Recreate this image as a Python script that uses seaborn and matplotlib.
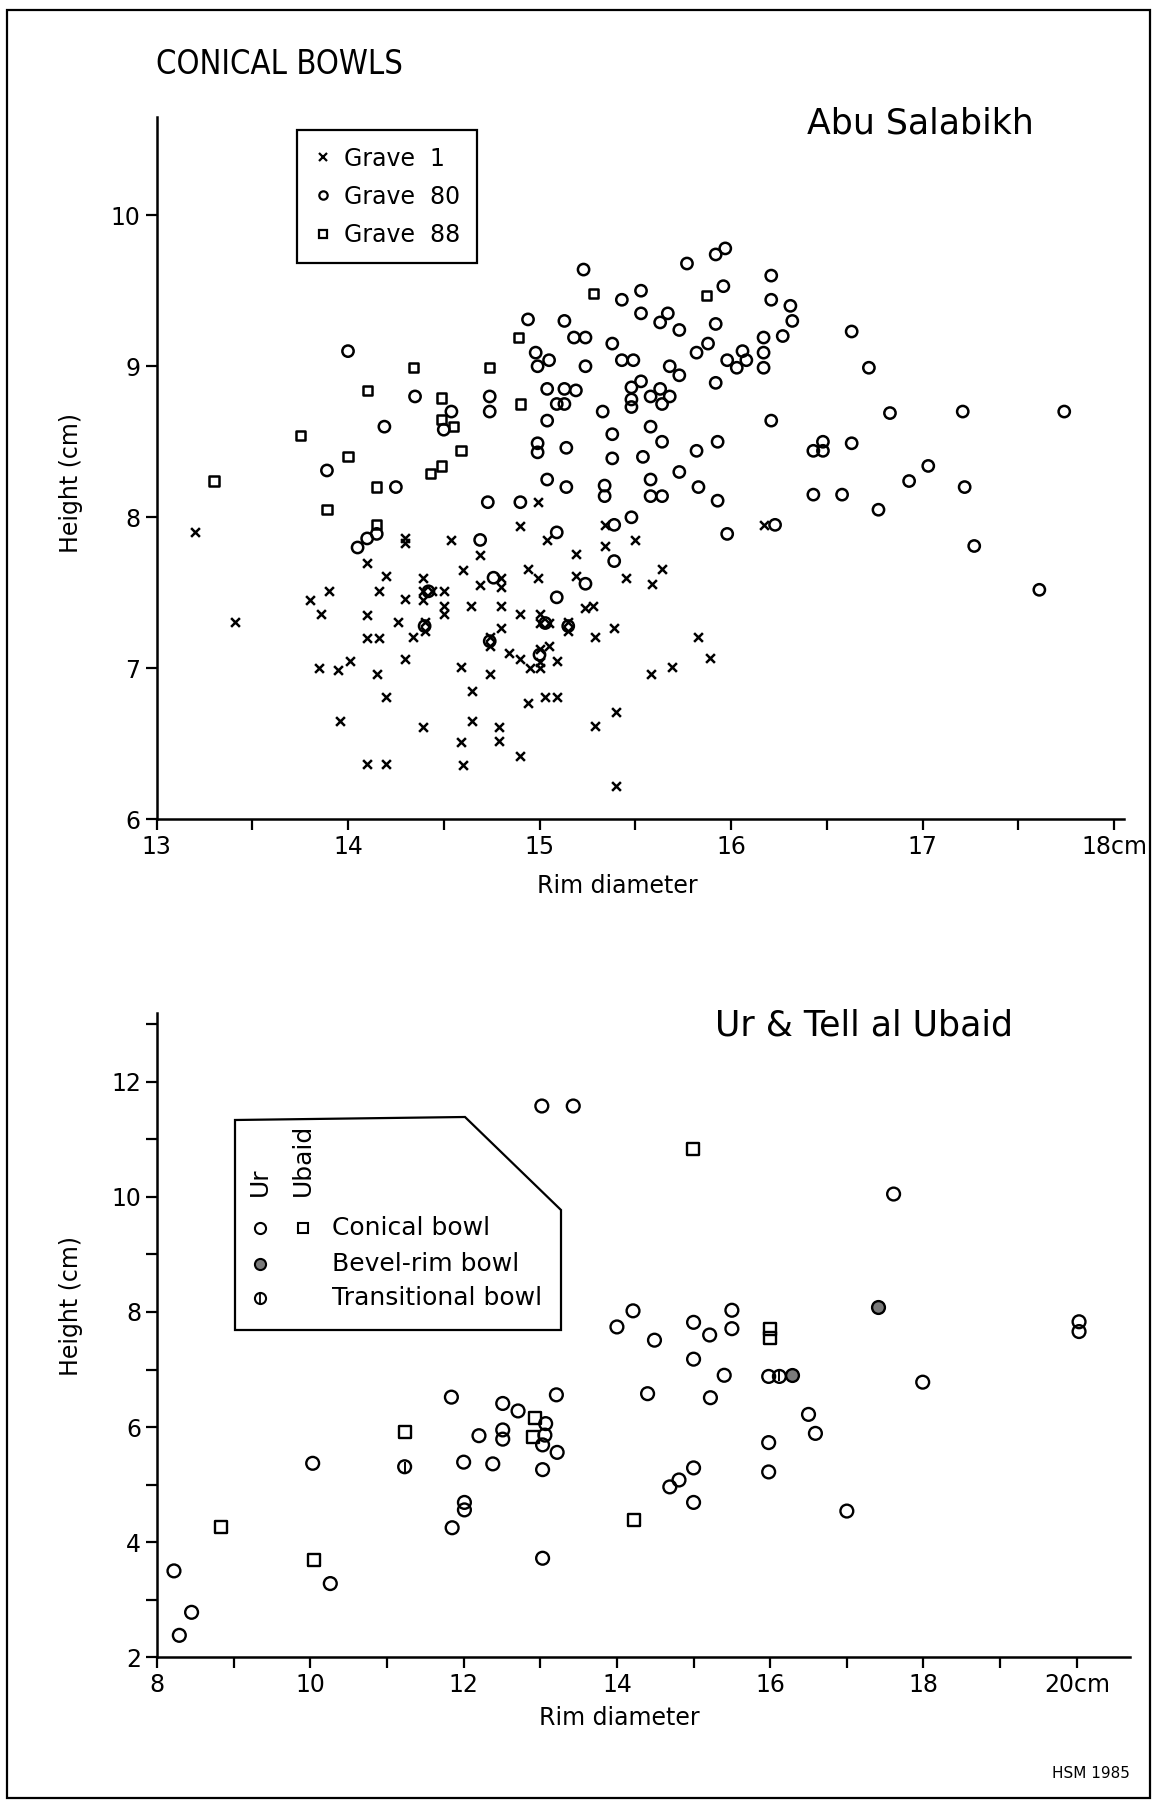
import matplotlib
matplotlib.use('Agg')
import matplotlib.pyplot as plt
import seaborn as sns
from matplotlib.lines import Line2D
from matplotlib.patches import Polygon, Rectangle
from matplotlib.ticker import FixedLocator, MultipleLocator
from matplotlib import font_manager

# ---- Abu Salabikh (rim diameter cm, height cm) ----
grave1_rim = [13.20, 13.41, 13.80, 13.90, 13.86, 13.85, 13.95, 14.01, 13.96, 14.10, 14.20, 14.16,
              14.10, 14.10, 14.16, 14.15, 14.20, 14.10, 14.20, 14.30, 14.30, 14.30, 14.26, 14.30,
              14.39, 14.39, 14.39, 14.44, 14.50, 14.50, 14.50, 14.40, 14.40, 14.34, 14.39, 14.54,
              14.60, 14.64, 14.59, 14.65, 14.65, 14.59, 14.60, 14.90, 14.69, 14.69, 14.80, 14.80,
              15.04, 14.94, 14.99, 14.80, 14.80, 14.90, 15.00, 15.00, 15.05, 15.15, 15.15, 14.74,
              14.74, 14.84, 14.90, 14.95, 15.00, 15.00, 15.00, 15.05, 15.09, 14.74, 14.94, 15.03,
              15.09, 14.79, 14.79, 14.90, 15.19, 15.19, 15.24, 15.28, 15.34, 15.34, 15.50, 15.45,
              15.29, 15.39, 15.29, 15.40, 15.40, 15.64, 15.59, 15.58, 15.69, 15.83, 15.89, 16.17,
              14.99]
grave1_height = [7.90, 7.31, 7.45, 7.51, 7.36, 7.00, 6.99, 7.05, 6.65, 7.70, 7.61, 7.51,
                 7.35, 7.20, 7.20, 6.96, 6.81, 6.37, 6.37, 7.86, 7.83, 7.46, 7.31, 7.06,
                 7.60, 7.51, 7.45, 7.51, 7.51, 7.41, 7.36, 7.31, 7.25, 7.21, 6.61, 7.85,
                 7.65, 7.41, 7.01, 6.85, 6.65, 6.51, 6.36, 7.94, 7.75, 7.55, 7.60, 7.54,
                 7.85, 7.66, 7.60, 7.41, 7.27, 7.36, 7.36, 7.30, 7.30, 7.31, 7.25, 7.21,
                 7.15, 7.10, 7.06, 7.00, 7.00, 7.13, 7.04, 7.15, 7.05, 6.96, 6.77, 6.81,
                 6.81, 6.61, 6.52, 6.42, 7.76, 7.61, 7.40, 7.41, 7.95, 7.81, 7.85, 7.60,
                 7.21, 7.27, 6.62, 6.71, 6.22, 7.66, 7.56, 6.96, 7.01, 7.21, 7.07, 7.95,
                 8.10]

grave80_rim = [14.05, 14.10, 14.15, 14.42, 14.40, 14.69, 14.76, 15.03, 15.15, 14.74, 15.00, 15.09,
               15.24, 15.09, 15.39, 15.48, 15.39, 15.98, 16.23, 14.00, 14.35, 14.54, 14.50, 14.19,
               13.89, 14.25, 15.23, 15.77, 15.92, 15.97, 15.96, 16.21, 16.21, 16.31, 16.32, 16.27,
               16.17, 16.17, 16.17, 16.21, 15.43, 15.53, 15.53, 15.63, 15.67, 15.73, 15.92, 15.88,
               15.82, 16.06, 15.98, 16.03, 16.08, 15.92, 15.68, 15.73, 14.94, 15.13, 15.18, 15.24,
               15.38, 14.98, 15.05, 14.99, 15.24, 15.43, 15.49, 15.04, 15.13, 15.19, 15.53, 15.48,
               15.48, 15.48, 15.58, 15.63, 15.68, 15.64, 14.74, 14.74, 15.09, 15.13, 15.04, 15.33,
               15.38, 15.58, 15.64, 15.82, 15.93, 14.99, 14.99, 15.14, 15.38, 15.54, 15.73, 15.04,
               15.14, 15.34, 15.34, 15.58, 15.58, 15.64, 15.83, 15.93, 14.73, 14.90, 16.63, 16.72,
               16.83, 17.21, 17.74, 16.48, 16.43, 16.48, 16.63, 17.03, 16.93, 17.22, 16.43, 16.58,
               16.77, 17.27, 17.61]
grave80_height = [7.80, 7.86, 7.89, 7.51, 7.28, 7.85, 7.60, 7.30, 7.28, 7.18, 7.09, 7.90,
                  7.56, 7.47, 7.95, 8.00, 7.71, 7.89, 7.95, 9.10, 8.80, 8.70, 8.58, 8.60,
                  8.31, 8.20, 9.64, 9.68, 9.74, 9.78, 9.53, 9.60, 9.44, 9.40, 9.30, 9.20,
                  9.19, 9.09, 8.99, 8.64, 9.44, 9.50, 9.35, 9.29, 9.35, 9.24, 9.28, 9.15,
                  9.09, 9.10, 9.04, 8.99, 9.04, 8.89, 9.00, 8.94, 9.31, 9.30, 9.19, 9.19,
                  9.15, 9.09, 9.04, 9.00, 9.00, 9.04, 9.04, 8.85, 8.85, 8.84, 8.90, 8.86,
                  8.78, 8.73, 8.80, 8.85, 8.80, 8.75, 8.80, 8.70, 8.75, 8.75, 8.64, 8.70,
                  8.55, 8.60, 8.50, 8.44, 8.50, 8.49, 8.43, 8.46, 8.39, 8.40, 8.30, 8.25,
                  8.20, 8.21, 8.14, 8.25, 8.14, 8.14, 8.20, 8.11, 8.10, 8.10, 9.23, 8.99,
                  8.69, 8.70, 8.70, 8.50, 8.44, 8.44, 8.49, 8.34, 8.24, 8.20, 8.15, 8.15,
                  8.05, 7.81, 7.52]

grave88_rim = [14.34, 14.10, 14.49, 14.49, 14.55, 13.75, 14.59, 14.00, 14.49, 14.43, 13.30, 14.15,
               13.89, 14.15, 15.28, 15.87, 14.89, 14.74, 14.90]
grave88_height = [8.99, 8.84, 8.79, 8.65, 8.60, 8.54, 8.44, 8.40, 8.34, 8.29, 8.24, 8.20,
                  8.05, 7.95, 9.48, 9.47, 9.19, 8.99, 8.75]

# ---- Ur & Tell al Ubaid ----
ur_conical_rim = [8.22, 8.29, 8.45, 10.03, 10.26, 11.84, 11.85, 12.00, 12.01, 12.01, 12.20, 12.38,
                  12.51, 12.51, 12.51, 12.71, 13.07, 13.06, 13.03, 13.03, 13.22, 13.21, 13.03, 13.02,
                  13.43, 14.00, 14.21, 17.61, 15.00, 15.50, 15.50, 15.21, 14.49, 20.03, 20.03, 15.00,
                  15.40, 14.40, 15.22, 15.98, 16.50, 16.59, 15.98, 15.98, 17.99, 15.00, 14.81, 14.69,
                  15.00, 17.00]
ur_conical_height = [3.50, 2.38, 2.78, 5.37, 3.28, 6.52, 4.25, 5.39, 4.69, 4.56, 5.85, 5.36,
                     6.41, 5.95, 5.79, 6.28, 6.06, 5.86, 5.69, 5.26, 5.56, 6.56, 3.72, 11.58,
                     11.58, 7.74, 8.02, 10.05, 7.82, 8.03, 7.71, 7.60, 7.51, 7.83, 7.66, 7.18,
                     6.90, 6.58, 6.51, 6.88, 6.22, 5.89, 5.73, 5.22, 6.78, 5.29, 5.08, 4.96,
                     4.69, 4.54]
ubaid_conical_rim = [12.93, 12.90, 11.23, 8.83, 10.05, 14.22, 14.99, 16.00, 16.00]
ubaid_conical_height = [6.16, 5.82, 5.91, 4.26, 3.69, 4.38, 10.83, 7.71, 7.54]
ur_bevel_rim = [17.41, 16.28]
ur_bevel_height = [8.09, 6.90]
ur_trans_rim = [11.23, 16.12]
ur_trans_height = [5.31, 6.88]

top_xticks = [13, 14, 15, 16, 17, 18]
top_xlabels = ['13', '14', '15', '16', '17', '18cm']
top_yticks = [6, 7, 8, 9, 10]
bot_xticks = [8, 10, 12, 14, 16, 18, 20]
bot_xlabels = ['8', '10', '12', '14', '16', '18', '20cm']
bot_yticks = [2, 4, 6, 8, 10, 12]

sns.set_style('ticks')
plt.rcParams['font.family'] = ['DejaVu Sans']
plt.rcParams['text.color'] = 'black'
plt.rcParams['axes.labelcolor'] = 'black'
plt.rcParams['xtick.color'] = 'black'
plt.rcParams['ytick.color'] = 'black'

# narrow face for the big heading
title_font = font_manager.FontProperties(family='DejaVu Sans', stretch='condensed', size=23.5)

W, H = 1160, 1805
fig = plt.figure(figsize=(W / 100, H / 100), dpi=100)


def fx(px):
    return px / W


def fy(py):
    return 1 - py / H


def style_axes(ax):
    sns.despine(ax=ax)
    for side in ['left', 'bottom']:
        ax.spines[side].set_linewidth(1.8)
        ax.spines[side].set_color('black')
    ax.tick_params(which='both', direction='out', length=8, width=1.6, colors='black',
                   labelcolor='black', labelsize=17)


# ---------------- top panel ----------------
ax1 = fig.add_axes([fx(156.5), fy(819.4), fx(1123.6) - fx(156.5), (819.4 - 117) / H])
sns.scatterplot(x=grave1_rim, y=grave1_height, marker='x', color='black', s=40,
                linewidth=1.8, ax=ax1)
sns.scatterplot(x=grave80_rim, y=grave80_height, marker='o', s=66, facecolors='none',
                edgecolor='black', linewidth=1.8, ax=ax1)
sns.scatterplot(x=grave88_rim, y=grave88_height, marker='s', s=44, facecolors='none',
                edgecolor='black', linewidth=1.8, ax=ax1)
ax1.set_xlim(13, 18.05)
ax1.set_ylim(6, 10.65)
ax1.xaxis.set_major_locator(FixedLocator(top_xticks))
ax1.set_xticklabels(top_xlabels)
ax1.xaxis.set_minor_locator(MultipleLocator(0.5))
ax1.set_yticks(top_yticks)
ax1.set_yticklabels([str(v) for v in top_yticks])
style_axes(ax1)

handles = [
    Line2D([], [], ls='none', marker='x', color='black', markersize=6, markeredgewidth=1.6),
    Line2D([], [], ls='none', marker='o', markerfacecolor='none', markeredgecolor='black',
           markersize=6, markeredgewidth=1.6),
    Line2D([], [], ls='none', marker='s', markerfacecolor='none', markeredgecolor='black',
           markersize=5.5, markeredgewidth=1.6),
]
leg = ax1.legend(handles, ['Grave  1', 'Grave  80', 'Grave  88'], loc='upper left',
                 bbox_to_anchor=(fx(297), fy(130)), bbox_transform=fig.transFigure,
                 borderaxespad=0, fontsize=17, frameon=True, fancybox=False, framealpha=1,
                 edgecolor='black', handlelength=0.8, handletextpad=0.5, labelspacing=0.6,
                 borderpad=0.7)
leg.get_frame().set_linewidth(1.6)
for t in leg.get_texts():
    t.set_color('black')

# ---------------- bottom panel ----------------
ax2 = fig.add_axes([fx(157.1), fy(1657.2), fx(1130.4) - fx(157.1), (1657.2 - 1012.8) / H])
sns.scatterplot(x=ur_conical_rim, y=ur_conical_height, marker='o', s=85, facecolors='none',
                edgecolor='black', linewidth=1.7, ax=ax2)
sns.scatterplot(x=ubaid_conical_rim, y=ubaid_conical_height, marker='s', s=75,
                facecolors='none', edgecolor='black', linewidth=1.7, ax=ax2)
sns.scatterplot(x=ur_bevel_rim, y=ur_bevel_height, marker='o', s=85, facecolors='#7a7a7a',
                edgecolor='black', linewidth=1.7, ax=ax2)
sns.scatterplot(x=ur_trans_rim, y=ur_trans_height, marker='o', s=85, facecolors='none',
                edgecolor='black', linewidth=1.7, ax=ax2)
sns.scatterplot(x=ur_trans_rim, y=ur_trans_height, marker='|', s=45, color='black',
                linewidth=1.4, ax=ax2)
ax2.set_xlim(8, 20.7)
ax2.set_ylim(2, 13.2)
ax2.xaxis.set_major_locator(FixedLocator(bot_xticks))
ax2.set_xticklabels(bot_xlabels)
ax2.xaxis.set_minor_locator(MultipleLocator(1))
ax2.set_yticks(bot_yticks)
ax2.set_yticklabels([str(v) for v in bot_yticks])
ax2.yaxis.set_minor_locator(MultipleLocator(1))
style_axes(ax2)

# bottom legend (cut-corner box)
box = [(235, 1120), (465, 1117), (561, 1210), (561, 1330), (235, 1330)]
fig.add_artist(Polygon([(fx(a), fy(b)) for a, b in box], closed=True, transform=fig.transFigure,
                       facecolor='white', edgecolor='black', linewidth=1.6, zorder=5))
fig.text(fx(260), fy(1196), 'Ur', rotation=90, ha='center', va='bottom', fontsize=18, zorder=6)
fig.text(fx(303), fy(1196), 'Ubaid', rotation=90, ha='center', va='bottom', fontsize=18, zorder=6)
rows = [(1228, 'Conical bowl'), (1264, 'Bevel-rim bowl'), (1298, 'Transitional bowl')]
for yy, lab in rows:
    fig.text(fx(332), fy(yy), lab, ha='left', va='center', fontsize=18, zorder=6)
fig.add_artist(Line2D([fx(260)], [fy(1228)], ls='none', marker='o', markersize=8,
                      markerfacecolor='none', markeredgecolor='black', markeredgewidth=1.5,
                      transform=fig.transFigure, zorder=6))
fig.add_artist(Line2D([fx(303)], [fy(1228)], ls='none', marker='s', markersize=7,
                      markerfacecolor='none', markeredgecolor='black', markeredgewidth=1.5,
                      transform=fig.transFigure, zorder=6))
fig.add_artist(Line2D([fx(260)], [fy(1264)], ls='none', marker='o', markersize=8,
                      markerfacecolor='#7a7a7a', markeredgecolor='black', markeredgewidth=1.5,
                      transform=fig.transFigure, zorder=6))
fig.add_artist(Line2D([fx(260)], [fy(1298)], ls='none', marker='o', markersize=8,
                      markerfacecolor='none', markeredgecolor='black', markeredgewidth=1.5,
                      transform=fig.transFigure, zorder=6))
fig.add_artist(Line2D([fx(260)], [fy(1298)], ls='none', marker='|', markersize=7,
                      markeredgecolor='black', markeredgewidth=1.3,
                      transform=fig.transFigure, zorder=6))

# ---------------- texts ----------------
fig.text(fx(156), fy(65), 'CONICAL BOWLS', ha='left', va='center', fontproperties=title_font)
fig.text(fx(920), fy(123), 'Abu Salabikh', ha='center', va='center', fontsize=25)
fig.text(fx(864), fy(1025), 'Ur & Tell al Ubaid', ha='center', va='center', fontsize=25)
fig.text(fx(71), fy(483), 'Height (cm)', rotation=90, ha='center', va='center', fontsize=17)
fig.text(fx(617), fy(886), 'Rim diameter', ha='center', va='center', fontsize=17)
fig.text(fx(71), fy(1306), 'Height (cm)', rotation=90, ha='center', va='center', fontsize=17)
fig.text(fx(619), fy(1718), 'Rim diameter', ha='center', va='center', fontsize=17)
fig.text(fx(1091), fy(1773), 'HSM 1985', ha='center', va='center', fontsize=11)

fig.add_artist(Rectangle((fx(7), fy(1798)), fx(1150) - fx(7), (1798 - 10) / H, fill=False,
                         edgecolor='black', linewidth=1.6, transform=fig.transFigure))

fig.savefig('out.png', dpi=100)
